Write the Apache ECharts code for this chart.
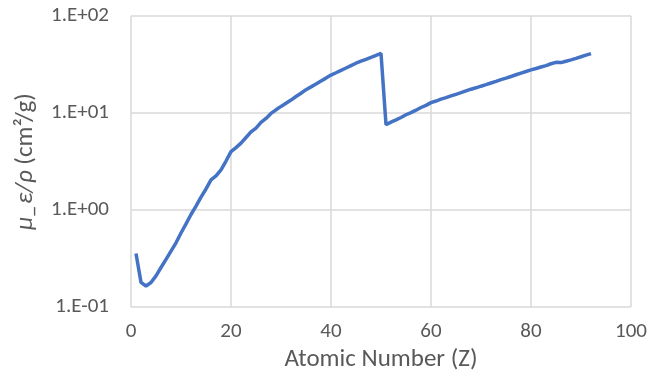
<!DOCTYPE html>
<html>
<head>
<meta charset="utf-8">
<script src="https://cdn.jsdelivr.net/npm/echarts@6/dist/echarts.min.js"></script>
<style>
  html, body { margin: 0; padding: 0; background: #ffffff; }
  #chart { width: 661px; height: 377px; }
</style>
</head>
<body>
<div id="chart"></div>
<script>
// Atomic number Z of each element plotted
const atomicNumbers = [
  1, 2, 3, 4, 5, 6, 7, 8, 9, 10,
  11, 12, 13, 14, 15, 16, 17, 18, 19, 20,
  21, 22, 23, 24, 25, 26, 27, 28, 29, 30,
  31, 32, 33, 34, 35, 36, 37, 38, 39, 40,
  41, 42, 43, 44, 45, 46, 47, 48, 49, 50,
  51, 52, 53, 54, 55, 56, 57, 58, 59, 60,
  61, 62, 63, 64, 65, 66, 67, 68, 69, 70,
  71, 72, 73, 74, 75, 76, 77, 78, 79, 80,
  81, 82, 83, 84, 85, 86, 87, 88, 89, 90,
  91, 92
];

// Mass attenuation coefficient (cm^2/g) for each element
const massAttenuation = [
  0.357, 0.180, 0.165, 0.179, 0.210, 0.256, 0.310, 0.378, 0.460, 0.580,
  0.720, 0.900, 1.10, 1.36, 1.65, 2.05, 2.25, 2.60, 3.20, 4.00,
  4.40, 4.90, 5.60, 6.40, 7.00, 8.00, 8.80, 9.90, 10.8, 11.7,
  12.6, 13.6, 14.8, 16.0, 17.4, 18.6, 19.9, 21.4, 22.9, 24.6,
  26.0, 27.5, 29.1, 30.8, 32.6, 34.2, 35.8, 37.5, 39.3, 41.2,
  7.60, 8.05, 8.50, 9.00, 9.60, 10.1, 10.7, 11.4, 12.0, 12.8,
  13.3, 13.9, 14.4, 15.0, 15.6, 16.2, 16.9, 17.6, 18.2, 18.9,
  19.6, 20.4, 21.2, 22.1, 22.9, 23.8, 24.8, 25.8, 26.8, 27.8,
  28.8, 29.8, 30.8, 32.2, 33.3, 33.1, 34.2, 35.3, 36.6, 38.0,
  39.5, 41.0
];

// Axis ranges and tick labels
const xTicks = [0, 20, 40, 60, 80, 100];
const yTickLabels = ['1.E-01', '1.E+00', '1.E+01', '1.E+02'];

const xAxisTitle = 'Atomic Number (Z)';

const seriesData = atomicNumbers.map((z, i) => [z, massAttenuation[i]]);

const fontFamily = 'Carlito, Calibri, Lato, sans-serif';
const textColor = '#595959';
const gridColor = '#d9d9d9';

const chart = echarts.init(document.getElementById('chart'), null, { renderer: 'canvas' });

chart.setOption({
  backgroundColor: '#ffffff',
  animation: false,
  grid: { left: 131, right: 30, top: 16, bottom: 67 },
  xAxis: {
    type: 'value',
    min: xTicks[0],
    max: xTicks[xTicks.length - 1],
    interval: xTicks[1] - xTicks[0],
    name: xAxisTitle,
    nameLocation: 'middle',
    nameGap: 38,
    nameTextStyle: { fontFamily, fontSize: 25, color: textColor },
    axisLine: { show: false },
    axisTick: { show: false },
    axisLabel: { fontFamily, fontSize: 21, color: textColor, margin: 14 },
    splitLine: { show: true, lineStyle: { color: gridColor, width: 1.5 } }
  },
  yAxis: {
    type: 'log',
    logBase: 10,
    min: 0.1,
    max: 100,
    name: '{it|μ_ε/ρ} {n|(cm²/g)}',
    nameLocation: 'middle',
    nameRotate: 90,
    nameGap: 93,
    nameTextStyle: {
      fontFamily, fontSize: 25, color: textColor,
      rich: {
        it: { fontFamily, fontSize: 25, color: textColor, fontStyle: 'italic' },
        n: { fontFamily, fontSize: 25, color: textColor }
      }
    },
    axisLine: { show: false },
    axisTick: { show: false },
    axisLabel: {
      fontFamily, fontSize: 21, color: textColor, margin: 22,
      formatter: (v) => {
        const e = Math.round(Math.log10(v));
        return yTickLabels[e + 1];
      }
    },
    splitLine: { show: true, lineStyle: { color: gridColor, width: 1.5 } }
  },
  series: [{
    type: 'line',
    data: seriesData,
    showSymbol: false,
    smooth: false,
    lineStyle: { color: '#4472C4', width: 3.5 },
    itemStyle: { color: '#4472C4' }
  }]
});
</script>
</body>
</html>
